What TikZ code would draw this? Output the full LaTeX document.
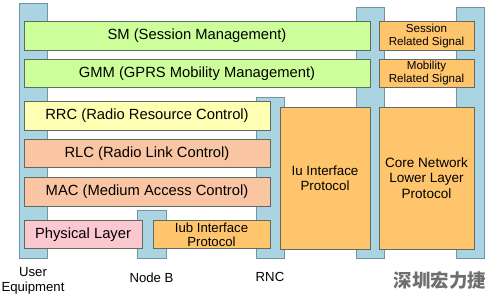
\documentclass[tikz,border=0pt]{standalone}
\usepackage{fontspec}
\setmainfont{Liberation Sans}
\newfontfamily\cjk{Noto Sans CJK SC}
\usepackage{tikz}
\usetikzlibrary{positioning}
\definecolor{barblue}{RGB}{170, 212, 226}
\definecolor{barline}{RGB}{112, 150, 166}
\definecolor{boxline}{RGB}{96, 106, 96}
\definecolor{smgreen}{RGB}{204, 255, 153}
\definecolor{rrcyellow}{RGB}{255, 255, 179}
\definecolor{rlcsalmon}{RGB}{250, 197, 162}
\definecolor{phypink}{RGB}{250, 200, 206}
\definecolor{ifaceorange}{RGB}{255, 197, 108}
\definecolor{brandgray}{RGB}{110, 110, 110}

\begin{document}
\begin{tikzpicture}[
    x=0.02cm, y=-0.02cm,
    bar/.style={rectangle, draw=barline, fill=barblue, line width=0.5pt, minimum width=0.56cm, inner sep=0pt},
    layer/.style={rectangle, draw=boxline, line width=0.5pt, minimum height=0.57cm, inner sep=1pt, align=center, font=\fontsize{8.4}{9}\selectfont},
    wideproto/.style={layer, fill=smgreen, minimum width=6.92cm},
    radioproto/.style={layer, minimum width=4.92cm},
    signalbox/.style={layer, fill=ifaceorange, minimum width=1.9cm, font=\fontsize{6.6}{7.4}\selectfont},
    ifacebox/.style={layer, fill=ifaceorange, minimum width=1.8cm, minimum height=2.84cm, font=\fontsize{7.6}{8.6}\selectfont},
    place/.style={font=\fontsize{7.5}{8.6}\selectfont, align=center, inner sep=1pt}
]
\useasboundingbox (0,0) rectangle (500,297);

% Protocol stacks (blue bars)
\node[bar, minimum height=5.1cm] (ue) at (33,130.5) {};
\node[bar, minimum height=0.96cm, minimum width=0.58cm] (nodeb) at (151.5,234) {};
\node[bar, minimum height=3.22cm] (rnc) at (270,177.5) {};
\node[bar, minimum height=5.02cm] (sgsn) at (370,132.5) {};
\node[bar, minimum height=5.02cm] (core) at (470,132.5) {};

% Upper layers
\node[wideproto] (sm) at (197,36) {SM (Session Management)};
\node[wideproto] (gmm) at (197,73.5) {GMM (GPRS Mobility Management)};
\node[signalbox] (session) at (426.5,36) {Session\\Related Signal};
\node[signalbox] (mobility) at (426.5,73.5) {Mobility\\Related Signal};

% Radio layers
\node[radioproto, fill=rrcyellow] (rrc) at (147,116) {RRC (Radio Resource Control)};
\node[radioproto, fill=rlcsalmon] (rlc) at (147,153.5) {RLC (Radio Link Control)};
\node[radioproto, fill=rlcsalmon] (mac) at (147,192) {MAC (Medium Access Control)};
\node[layer, fill=phypink, minimum width=2.36cm] (phy) at (83,234.5) {Physical Layer};
\node[layer, fill=ifaceorange, minimum width=2.34cm, font=\fontsize{7.5}{8.2}\selectfont] (iub) at (211.5,234.5) {Iub Interface\\Protocol};

% Interfaces
\node[ifacebox] (iu) at (325,178) {Iu Interface\\Protocol};
\node[ifacebox, minimum width=1.9cm, font=\fontsize{7.7}{8.8}\selectfont] (lower) at (426.5,178) {Core Network\\Lower Layer\\Protocol};

% Labels
\node[place, below=0.14cm of ue] (uelabel) {User\\Equipment};
\node[place, below=0.24cm of nodeb] (nodeblabel) {Node B};
\node[place, below=0.24cm of rnc] (rnclabel) {RNC};
\node[font=\cjk\bfseries\fontsize{10.5}{12}\selectfont, text=brandgray, inner sep=0pt] (brand) at (440,280) {深圳宏力捷};

\end{tikzpicture}
\end{document}
